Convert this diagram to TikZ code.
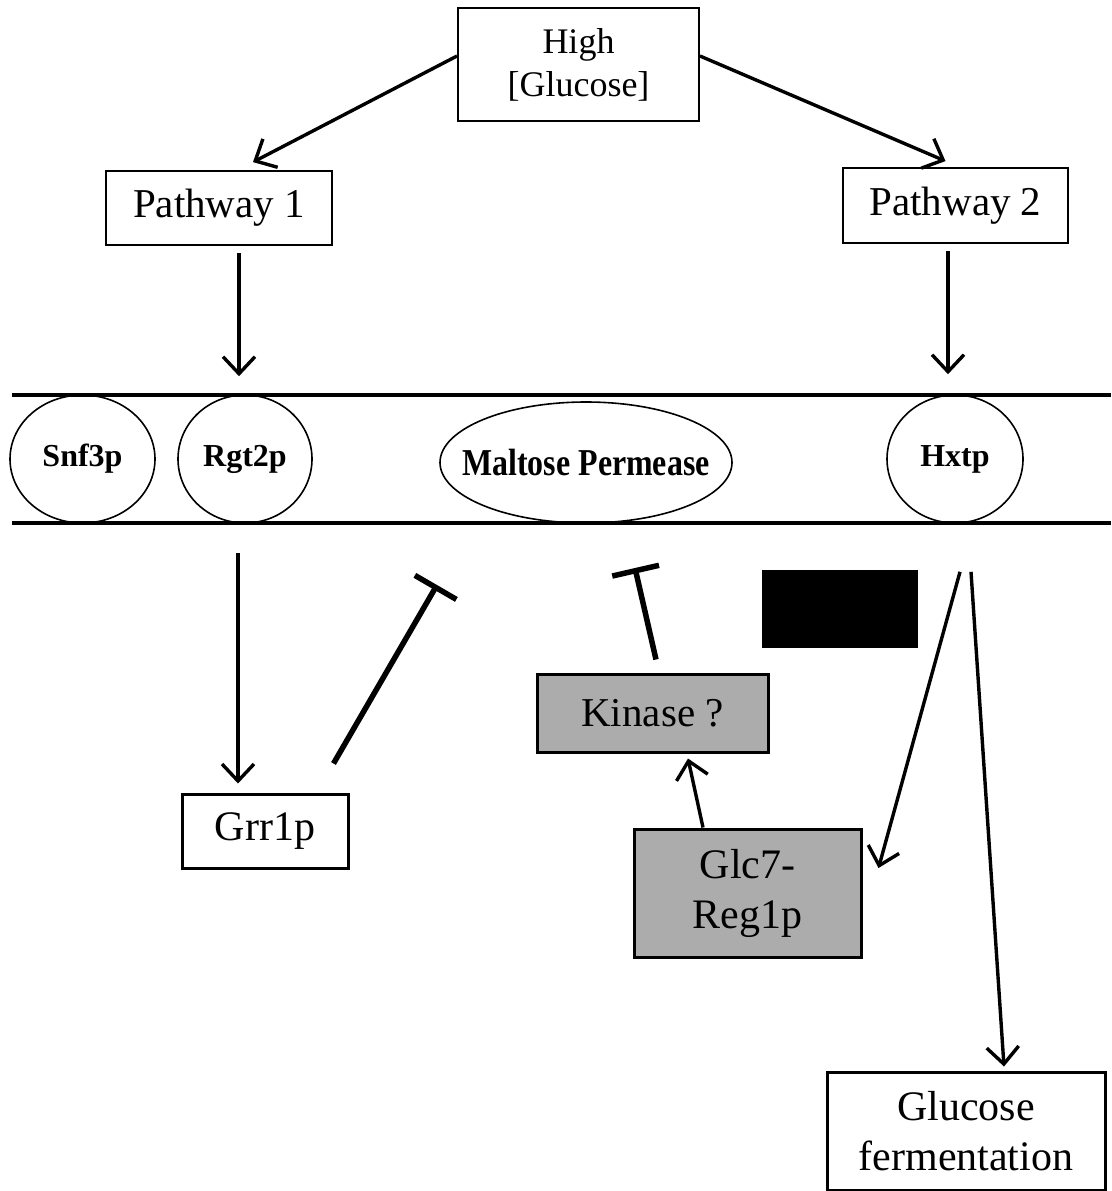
\documentclass[tikz,border=0pt]{standalone}
\usepackage{fontspec}
\setmainfont{Liberation Serif}
\newfontfamily\narrowserif{Liberation Serif}[FakeStretch=0.84]
\usetikzlibrary{arrows.meta,shapes.geometric}

\begin{document}
\begin{tikzpicture}[x=1pt, y=-1pt]
  \tikzset{box/.style={draw, line width=1.8pt, inner sep=0pt, align=center, font=\fontsize{41}{48}\selectfont},
    heavybox/.style={box, line width=3pt},
    shaded/.style={heavybox, fill=gray!65},
    prot/.style={draw, ellipse, line width=1.6pt, inner sep=0pt, font=\fontsize{32}{38}\selectfont\bfseries},
    act/.style={-{Straight Barb[length=17pt, width=32pt]}, line width=3.4pt},
    inh/.style={-{Bar[width=48pt]}, line width=5.5pt}}
  \useasboundingbox (0,0) rectangle (1111,1191);
  \node[box, line width=2pt, minimum width=241pt, minimum height=113pt, font=\fontsize{36}{43}\selectfont] (high) at (578.5, 64.5) {High\\{[Glucose]}};
  \node[box, minimum width=226pt, minimum height=74pt] (path1) at (219, 208) {Pathway 1};
  \node[box, minimum width=225pt, minimum height=75pt] (path2) at (955.5, 205.5) {Pathway 2};
  \draw[line width=4.5pt] (12, 395) -- (1111, 395);
  \draw[line width=4.5pt] (12, 523) -- (1111, 523);
  \node[prot, minimum width=145pt, minimum height=128pt] (snf) at (82.5, 459) {Snf3p};
  \node[prot, minimum width=134pt, minimum height=128pt] (rgt) at (245, 459) {Rgt2p};
  \node[prot, minimum width=292pt, minimum height=121pt, font=\fontsize{38}{45}\narrowserif\bfseries] (malt) at (586, 462.5) {\makebox[190pt][c]{Maltose Permease}};
  \node[prot, minimum width=136pt, minimum height=128pt] (hxt) at (955, 459) {Hxtp};
  \node[heavybox, minimum width=166pt, minimum height=74pt, font=\fontsize{42}{50}\selectfont] (grr) at (265, 831) {Grr1p};
  \node[shaded, minimum width=231pt, minimum height=78pt] (kin) at (652.5, 713) {Kinase ?};
  \node[shaded, minimum width=227pt, minimum height=128pt, font=\fontsize{42}{50}\selectfont] (glc) at (747.5, 893) {Glc7-\\Reg1p};
  \node[fill=black, minimum width=156pt, minimum height=78pt, inner sep=0pt] (blank) at (840, 609) {};
  \node[heavybox, minimum width=278pt, minimum height=118pt, font=\fontsize{42}{50}\selectfont] (ferm) at (966, 1131) {Glucose\\fermentation};
  \coordinate (grrstop) at (437, 585);
  \coordinate (kinstop) at (635, 568);
  \draw[act] (high.176) -- ([xshift=34pt, yshift=8pt]path1.north);
  \draw[act] (high.4) -- ([xshift=-10pt, yshift=6pt]path2.north);
  \draw[act] ([xshift=20pt, yshift=-7pt]path1.south) -- ([xshift=-6pt, yshift=18pt]rgt.north);
  \draw[act] ([xshift=-7.5pt, yshift=-7pt]path2.south) -- ([xshift=-7pt, yshift=20pt]hxt.north);
  \draw[act] ([xshift=-7pt, yshift=-29pt]rgt.south) -- ([xshift=-27pt, yshift=9pt]grr.north);
  \draw[inh] ([xshift=-16pt, yshift=29pt]grr.north east) -- (grrstop);
  \draw[inh] ([xshift=3.5pt, yshift=13pt]kin.north) -- (kinstop);
  \draw[act] ([xshift=-44.5pt]glc.north) -- ([xshift=35.5pt, yshift=-5pt]kin.south);
  \draw[act] ([xshift=5pt, yshift=-48pt]hxt.south) -- ([xshift=16pt, yshift=25pt]glc.east);
  \draw[act] ([xshift=16pt, yshift=-48pt]hxt.south) -- ([xshift=38pt, yshift=4pt]ferm.north);
\end{tikzpicture}
\end{document}
